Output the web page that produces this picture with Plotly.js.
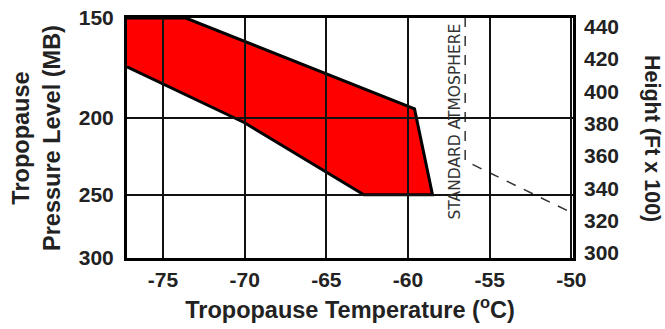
<!DOCTYPE html>
<html>
<head>
<meta charset="utf-8">
<script src="https://cdn.plot.ly/plotly-3.0.1.min.js"></script>
<style>html,body{margin:0;padding:0;background:#fff;}#chart{width:665px;height:329px;}</style>
</head>
<body>
<div id="chart"></div>
<script>
// Envelope of tropopause conditions (temperature °C, pressure mb)
const envelopeTemp = [-77.2, -73.6, -59.6, -58.5, -62.7, -70.0, -77.2];
const envelopePres = [150, 150, 195, 250, 250, 203, 172.7];

// Standard atmosphere line (temperature °C, height ft x 100)
const stdTemp = [-56.5, -56.5, -50];
const stdHeight = [446, 357, 325];

// Axis ticks
const xTicks = [-75, -70, -65, -60, -55, -50];
const presTicks = [150, 200, 250, 300];
const heightTicks = [300, 320, 340, 360, 380, 400, 420, 440];

const FONT = "Liberation Sans, Arial, Helvetica, sans-serif";
const tickFont = {family: FONT, size: 21, color: "#222", weight: 700};

const traces = [
  {
    x: envelopeTemp, y: envelopePres, type: "scatter", mode: "lines",
    fill: "toself", fillcolor: "#ff0000",
    line: {color: "#000", width: 3},
    hoverinfo: "skip", showlegend: false
  },
  {
    x: stdTemp, y: stdHeight, yaxis: "y2", type: "scatter", mode: "lines",
    line: {color: "#333", width: 1.5, dash: "10px,9px"},
    hoverinfo: "skip", showlegend: false
  }
];

const layout = {
  width: 665, height: 329,
  margin: {l: 127, r: 92, t: 18, b: 71},
  paper_bgcolor: "#fff", plot_bgcolor: "#fff",
  showlegend: false,
  xaxis: {
    range: [-77.2, -49.9],
    tickvals: xTicks,
    ticktext: xTicks.map(String),
    ticks: "inside", ticklen: 240, tickwidth: 2, tickcolor: "#111",
    showgrid: false, zeroline: false,
    showline: true, linecolor: "#000", linewidth: 3, mirror: true,
    layer: "above traces",
    tickfont: tickFont,
    ticklabelstandoff: 1,
    title: {text: "Tropopause Temperature (<sup>o</sup>C)", font: {family: FONT, size: 23.5, color: "#222", weight: 700}, standoff: 12}
  },
  yaxis: {
    type: "log",
    range: [Math.log10(300), Math.log10(150)],
    tickvals: presTicks,
    ticktext: presTicks.map(String),
    ticks: "inside", ticklen: 446, tickwidth: 2, tickcolor: "#111",
    showgrid: false, zeroline: false,
    showline: true, linecolor: "#000", linewidth: 3, mirror: true,
    layer: "above traces",
    tickfont: tickFont,
    ticklabelstandoff: 6
  },
  yaxis2: {
    overlaying: "y", side: "right",
    range: [296.9, 445.4],
    tickvals: heightTicks,
    ticktext: heightTicks.map(String),
    ticks: "", showgrid: false, zeroline: false, showline: false,
    tickfont: tickFont,
    ticklabelstandoff: 10
  },
  annotations: [
    {
      xref: "paper", yref: "paper", x: 0, y: 0.5, xshift: -91,
      xanchor: "center", yanchor: "middle", textangle: -90, showarrow: false,
      text: "Tropopause<br>Pressure Level (MB)",
      font: {family: FONT, size: 23.5, color: "#222", weight: 700}
    },
    {
      xref: "paper", yref: "paper", x: 1, y: 0.5, xshift: 79,
      xanchor: "center", yanchor: "middle", textangle: 90, showarrow: false,
      text: "Height (Ft x 100)",
      font: {family: FONT, size: 21.5, color: "#222", weight: 700}
    },
    {
      xref: "x", yref: "paper", x: -57.1, y: 0.57,
      xanchor: "center", yanchor: "middle", textangle: -90, showarrow: false,
      text: "STANDARD ATMOSPHERE",
      font: {family: "DejaVu Sans, sans-serif", size: 15.5, color: "#333"}
    }
  ]
};

Plotly.newPlot("chart", traces, layout, {staticPlot: true, displayModeBar: false});
</script>
</body>
</html>
